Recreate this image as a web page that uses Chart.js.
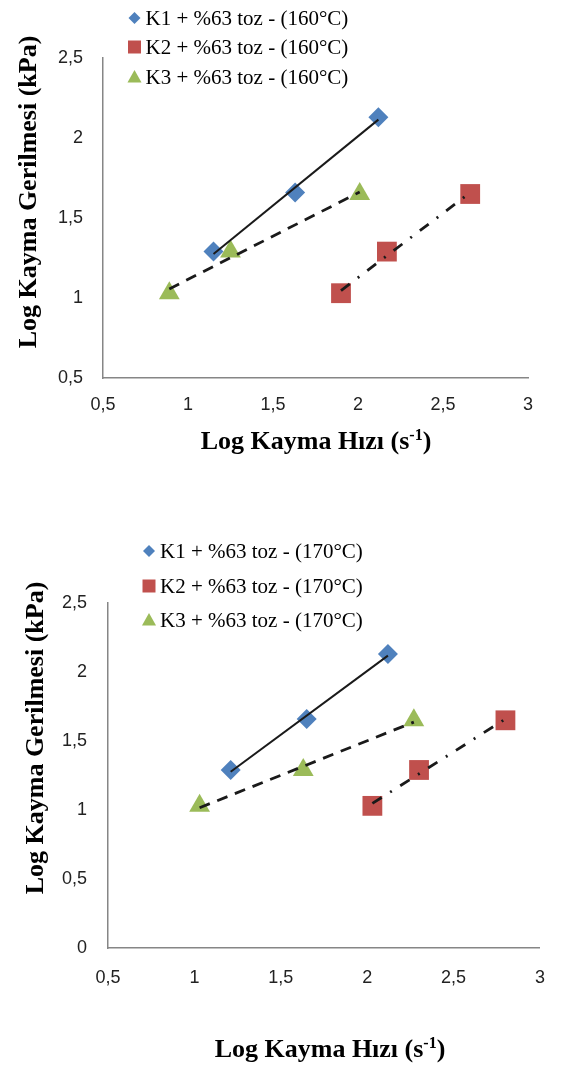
<!DOCTYPE html>
<html lang="tr">
<head>
<meta charset="UTF-8">
<title>Log Kayma Gerilmesi - Log Kayma Hızı</title>
<script src="https://cdn.jsdelivr.net/npm/chart.js"></script>
<style>
  body { margin: 0; background: #fff; width: 564px; height: 1065px; overflow: hidden; position: relative; }
  canvas { position: absolute; left: 0; }
</style>
</head>
<body>
<canvas id="grafik160" width="564" height="470" style="top:0px"></canvas>
<canvas id="grafik170" width="564" height="565" style="top:500px"></canvas>

<script>
// 160 C - log kayma hizi (x) / log kayma gerilmesi (y)
const k1x_160 = [1.15, 1.63, 2.12];
const k1y_160 = [1.29, 1.66, 2.13];
const k2x_160 = [1.90, 2.17, 2.66];
const k2y_160 = [1.03, 1.29, 1.65];
const k3x_160 = [0.89, 1.25, 2.01];
const k3y_160 = [1.03, 1.29, 1.65];

// 170 C
const k1x_170 = [1.21, 1.65, 2.12];
const k1y_170 = [1.29, 1.66, 2.13];
const k2x_170 = [2.03, 2.30, 2.80];
const k2y_170 = [1.03, 1.29, 1.65];
const k3x_170 = [1.03, 1.63, 2.27];
const k3y_170 = [1.03, 1.29, 1.65];

const xTicks = [0.5, 1, 1.5, 2, 2.5, 3];
const yTicks160 = [0.5, 1, 1.5, 2, 2.5];
const yTicks170 = [0, 0.5, 1, 1.5, 2, 2.5];

const names160 = ["K1 + %63 toz - (160°C)", "K2 + %63 toz - (160°C)", "K3 + %63 toz - (160°C)"];
const names170 = ["K1 + %63 toz - (170°C)", "K2 + %63 toz - (170°C)", "K3 + %63 toz - (170°C)"];

const renkler = ["#4F81BD", "#C0504D", "#9BBB59"];
const sekiller = ["rectRot", "rect", "triangle"];
const boyut = [10, 14, 12];
// trend cizgisi: K1 duz, K2 nokta-cizgi, K3 kesik
const cizgiler = [[], [11, 10, 2, 10], [11, 8]];
const cizgiKalin = [2, 2.8, 2.8];

function pts(xs, ys) {
  return xs.map((x, i) => ({ x: x, y: ys[i] }));
}

// dogrusal trend (en kucuk kareler)
function trend(xs, ys) {
  const n = xs.length;
  const mx = xs.reduce((a, b) => a + b, 0) / n;
  const my = ys.reduce((a, b) => a + b, 0) / n;
  let sxy = 0, sxx = 0;
  for (let i = 0; i < n; i++) {
    sxy += (xs[i] - mx) * (ys[i] - my);
    sxx += (xs[i] - mx) * (xs[i] - mx);
  }
  const b = sxy / sxx, a = my - b * mx;
  const x0 = Math.min(...xs), x1 = Math.max(...xs);
  return [{ x: x0, y: a + b * x0 }, { x: x1, y: a + b * x1 }];
}

function virgul(v) {
  return String(v).replace(".", ",");
}

function isaret(ctx, sekil, x, y, s, renk) {
  ctx.fillStyle = renk;
  ctx.beginPath();
  if (sekil === "rectRot") {
    ctx.moveTo(x - s, y); ctx.lineTo(x, y - s); ctx.lineTo(x + s, y); ctx.lineTo(x, y + s);
  } else if (sekil === "rect") {
    ctx.rect(x - s, y - s, 2 * s, 2 * s);
  } else {
    ctx.moveTo(x, y - s); ctx.lineTo(x + s, y + s * 0.8); ctx.lineTo(x - s, y + s * 0.8);
  }
  ctx.closePath();
  ctx.fill();
}

// eksen basliklari ve lejant
const ekler = {
  id: "ekler",
  afterDraw(chart, args, o) {
    const ctx = chart.ctx;
    ctx.save();
    // lejant
    ctx.font = "21px 'Liberation Serif'";
    ctx.textBaseline = "middle";
    ctx.textAlign = "left";
    o.names.forEach((ad, i) => {
      const y = o.legY[i];
      const s = [6, 6.5, 7][i];
      isaret(ctx, sekiller[i], o.legX, y, s, renkler[i]);
      ctx.fillStyle = "#000";
      ctx.fillText(ad, o.legX + 11, y + 1);
    });
    // y ekseni basligi
    ctx.font = "bold 26px 'Liberation Serif'";
    ctx.textAlign = "center";
    ctx.textBaseline = "middle";
    ctx.save();
    ctx.translate(o.yTitle[0], o.yTitle[1]);
    ctx.rotate(-Math.PI / 2);
    ctx.fillText("Log Kayma Gerilmesi (kPa)", 0, 0);
    ctx.restore();
    // x ekseni basligi (s-1 ust simge)
    const p1 = "Log Kayma Hızı (s", p2 = "-1", p3 = ")";
    ctx.textAlign = "left";
    ctx.textBaseline = "alphabetic";
    ctx.font = "bold 26px 'Liberation Serif'";
    const w1 = ctx.measureText(p1).width, w3 = ctx.measureText(p3).width;
    ctx.font = "bold 16px 'Liberation Serif'";
    const w2 = ctx.measureText(p2).width;
    let x = o.xTitle[0] - (w1 + w2 + w3) / 2;
    const b = o.xTitle[1];
    ctx.font = "bold 26px 'Liberation Serif'";
    ctx.fillText(p1, x, b);
    ctx.font = "bold 16px 'Liberation Serif'";
    ctx.fillText(p2, x + w1, b - 9);
    ctx.font = "bold 26px 'Liberation Serif'";
    ctx.fillText(p3, x + w1 + w2, b);
    ctx.restore();
  }
};

function grafik(id, seri, yTicks, alan, ek) {
  const ds = [];
  // trend cizgileri ustte kalsin diye order 0
  seri.forEach((s, i) => {
    ds.push({
      data: trend(s[0], s[1]),
      showLine: true,
      borderColor: "#1a1a1a",
      borderWidth: cizgiKalin[i],
      borderDash: cizgiler[i],
      pointRadius: 0,
      order: 0
    });
  });
  seri.forEach((s, i) => {
    ds.push({
      data: pts(s[0], s[1]),
      pointStyle: sekiller[i],
      pointRadius: boyut[i],
      backgroundColor: renkler[i],
      borderColor: renkler[i],
      borderWidth: 0,
      order: 1
    });
  });

  const tickFont = { family: "'Liberation Sans'", size: 18 };
  return new Chart(document.getElementById(id), {
    type: "scatter",
    data: { datasets: ds },
    plugins: [ekler],
    options: {
      responsive: false,
      animation: false,
      events: [],
      devicePixelRatio: 1,
      layout: { padding: { top: alan.top, right: alan.right, left: 0, bottom: 0 } },
      plugins: {
        legend: { display: false },
        tooltip: { enabled: false },
        ekler: ek
      },
      scales: {
        x: {
          type: "linear",
          min: xTicks[0],
          max: xTicks[xTicks.length - 1],
          afterBuildTicks: sc => { sc.ticks = xTicks.map(v => ({ value: v })); },
          afterFit: sc => { sc.height = alan.xH; },
          grid: { display: false, drawTicks: false },
          border: { display: true, color: "#868686", width: 1.5 },
          ticks: { padding: alan.xPad, color: "#222", font: tickFont, callback: v => virgul(v), maxRotation: 0 }
        },
        y: {
          type: "linear",
          min: yTicks[0],
          max: yTicks[yTicks.length - 1],
          afterBuildTicks: sc => { sc.ticks = yTicks.map(v => ({ value: v })); },
          afterFit: sc => { sc.width = alan.yW; },
          grid: { display: false, drawTicks: false },
          border: { display: true, color: "#868686", width: 1.5 },
          ticks: { padding: alan.yPad, color: "#222", font: tickFont, callback: v => virgul(v) }
        }
      }
    }
  });
}

grafik("grafik160",
  [[k1x_160, k1y_160], [k2x_160, k2y_160], [k3x_160, k3y_160]],
  yTicks160,
  { top: 58, right: 36, xH: 92, yW: 103, xPad: 16, yPad: 20 },
  { names: names160, legX: 134.5, legY: [18, 47, 77], yTitle: [29, 192], xTitle: [316, 449] });

grafik("grafik170",
  [[k1x_170, k1y_170], [k2x_170, k2y_170], [k3x_170, k3y_170]],
  yTicks170,
  { top: 103, right: 13, xH: 117, yW: 108, xPad: 19, yPad: 21 },
  { names: names170, legX: 149, legY: [51, 86, 120], yTitle: [36, 238], xTitle: [330, 557] });
</script>
</body>
</html>
